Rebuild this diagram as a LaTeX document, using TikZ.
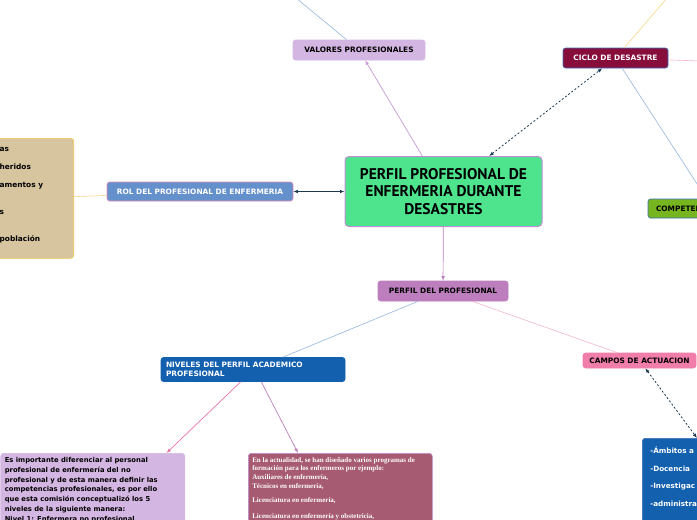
\documentclass[tikz,border=0pt]{standalone}
\usepackage{fontspec}
\setmainfont{DejaVu Sans}
\newfontfamily\enftitlefont{PT Sans}
\newfontfamily\enfseriffont{Liberation Serif}
\usepackage{tikz}
\usetikzlibrary{arrows.meta,calc}
\definecolor{enfgreen}{HTML}{4EE38D}
\definecolor{enflavender}{HTML}{BF8FD6}
\definecolor{enflilac}{HTML}{D4B6E2}
\definecolor{enfwine}{HTML}{870E3B}
\definecolor{enfframe}{HTML}{3D6FB6}
\definecolor{enflime}{HTML}{76B520}
\definecolor{enfsky}{HTML}{6490CC}
\definecolor{enfrose}{HTML}{E78BB8}
\definecolor{enfsand}{HTML}{D6C59F}
\definecolor{enfgold}{HTML}{F3C74A}
\definecolor{enforchid}{HTML}{BD7EBE}
\definecolor{enfblue}{HTML}{1260AE}
\definecolor{enfmauve}{HTML}{A65B72}
\definecolor{enfpink}{HTML}{F17DAA}
\definecolor{enfnavy}{HTML}{1B3A50}
\definecolor{enflineblue}{HTML}{94B7DF}
\definecolor{enflineorange}{HTML}{F7D58A}
\definecolor{enflinepink}{HTML}{F4B6CC}
\definecolor{enflinepurple}{HTML}{C79ADB}
\definecolor{enflinemagenta}{HTML}{E874AE}
\tikzset{%
  enfbox/.style={%
    rounded corners=2.5pt,
    line width=0.6pt,
    inner sep=0pt,
    align=center,
    font=\fontsize{7.4}{9}\selectfont\bfseries
  },
  enfmain/.style={%
    draw=enflavender,
    fill=enfgreen,
    line width=1pt,
    rounded corners=4pt,
    minimum width=197pt,
    minimum height=70pt,
    align=center,
    font=\enftitlefont\fontsize{15.5}{17.8}\selectfont\bfseries
  },
  enfnote/.style={%
    rounded corners=3pt,
    line width=0.6pt,
    inner sep=4pt,
    anchor=north west
  },
  enflink/.style={line width=0.6pt},
  enfarrow/.style={-{Latex[length=4.5pt,width=3.5pt]},line width=0.7pt},
  enfdotted/.style={{Latex[length=4.5pt,width=3.5pt]}-{Latex[length=4.5pt,width=3.5pt]},draw=enfnavy,line width=0.8pt,dash pattern=on 2pt off 2pt},
  enfsolid/.style={{Latex[length=4.5pt,width=3.5pt]}-{Latex[length=4.5pt,width=3.5pt]},draw=enfnavy,line width=0.8pt}
}

\begin{document}
\begin{tikzpicture}[x=1pt,y=-1pt]
  \useasboundingbox[fill=white] (0,0) rectangle (697,520);
  \clip (0,0) rectangle (697,520);

  \node[enfmain] (central) at (443.5,191.5) {PERFIL PROFESIONAL DE\\ENFERMERIA DURANTE\\DESASTRES};
  \node[enfbox,draw=enflilac,fill=enflilac,minimum width=132pt,minimum height=20pt] (valores) at (359,50) {VALORES PROFESIONALES};
  \node[enfbox,draw=enfframe,fill=enfwine,text=white,minimum width=105pt,minimum height=20pt] (ciclo) at (615.5,58) {CICLO DE DESASTRE};
  \node[enfbox,draw=enfframe,fill=enflime,minimum height=19pt,text width=114pt,inner xsep=8pt,align=left] (compet) at (713,208.5) {COMPETEN};
  \node[enfbox,draw=enfrose,fill=enfsky,text=white,minimum width=186pt,minimum height=19pt] (rol) at (200,191.5) {ROL DEL PROFESIONAL DE ENFERMERIA};
  \node[enfnote,draw=enfgold,fill=enfsand,anchor=north east,inner ysep=9pt,font=\fontsize{7.4}{9.5}\selectfont\bfseries] (funciones) at (74,138)
    {\parbox[t][102pt][t]{70pt}{as\\[8.5pt]heridos\\[8.5pt]amentos y\\[17.5pt]s\\[17.5pt]población}};
  \node[enfbox,draw=enforchid,fill=enforchid,minimum width=130pt,minimum height=20pt] (perfil) at (443,291) {PERFIL DEL PROFESIONAL};
  \node[enfbox,draw=enfblue,fill=enfblue,text=white,minimum height=24pt,text width=174pt,inner xsep=5pt,align=left] (niveles) at (253,369.5) {NIVELES DEL PERFIL ACADEMICO\\PROFESIONAL};
  \node[enfbox,draw=enfpink,fill=enfpink,minimum width=113pt,minimum height=15pt] (campos) at (639.5,360.5) {CAMPOS DE ACTUACION};

  \node[enfnote,draw=enflilac,fill=enflilac,font=\fontsize{6.8}{9.8}\selectfont\bfseries] (nivnote) at (0.5,453)
    {\parbox[t][80pt][t]{176pt}{Es importante diferenciar al personal\\profesional de enfermería del no\\profesional y de esta manera definir las\\competencias profesionales, es por ello\\que esta comisión conceptualizó los 5\\niveles de la siguiente manera:\\Nivel 1: Enfermera no profesional}};
  \node[enfnote,draw=enflavender,fill=enfmauve,text=white,font=\enfseriffont\fontsize{7}{8.8}\selectfont\bfseries] (formnote) at (248,453)
    {\parbox[t][80pt][t]{176pt}{En la actualidad, se han diseñado varios programas de\\formación para los enfermeros por ejemplo:\\Auxiliares de enfermería,\\Técnicos en enfermería,\\[5.5pt]Licenciatura en enfermería,\\[7pt]Licenciatura en enfermería y obstetricia,}};
  \node[enfnote,draw=enfframe,fill=enfblue,text=white,inner xsep=8pt,inner ysep=8.5pt,font=\fontsize{7.2}{9}\selectfont\bfseries] (ambitos) at (642,438)
    {\parbox[t][90pt][t]{70pt}{-Ámbitos a\\[8.7pt]-Docencia\\[8.7pt]-Investigac\\[8.7pt]-administra}};

  \coordinate (topa) at (296,-2);
  \coordinate (topb) at (667,-2);
  \coordinate (righta) at (700,61);

  \draw[enflink,draw=enflineblue] (valores) -- (topa);
  \draw[enfarrow,draw=enflinepurple] (central) -- (valores);
  \draw[enfdotted] (central) -- (ciclo);
  \draw[enflink,draw=enflineorange] (ciclo) -- (topb);
  \draw[enflink,draw=enflinepink] (ciclo) -- (righta);
  \draw[enflink,draw=enflineblue] (ciclo) -- (compet);
  \draw[enfsolid] (rol) -- (central);
  \draw[enflink,draw=enflineorange] (rol) -- (funciones);
  \draw[enfarrow,draw=enforchid] (central) -- (perfil);
  \draw[enflink,draw=enflineblue] (perfil) -- (niveles);
  \draw[enflink,draw=enflinepink] (perfil) -- (campos);
  \draw[enfarrow,draw=enflinemagenta] (niveles.225) -- ($(nivnote.north west)+(166,0)$);
  \draw[enfarrow,draw=enforchid] (niveles.-56) -- ($(formnote.north west)+(50,0)$);
  \draw[enfdotted] (campos.-53) -- ($(ambitos.north west)+(55,0)$);
\end{tikzpicture}
\end{document}
